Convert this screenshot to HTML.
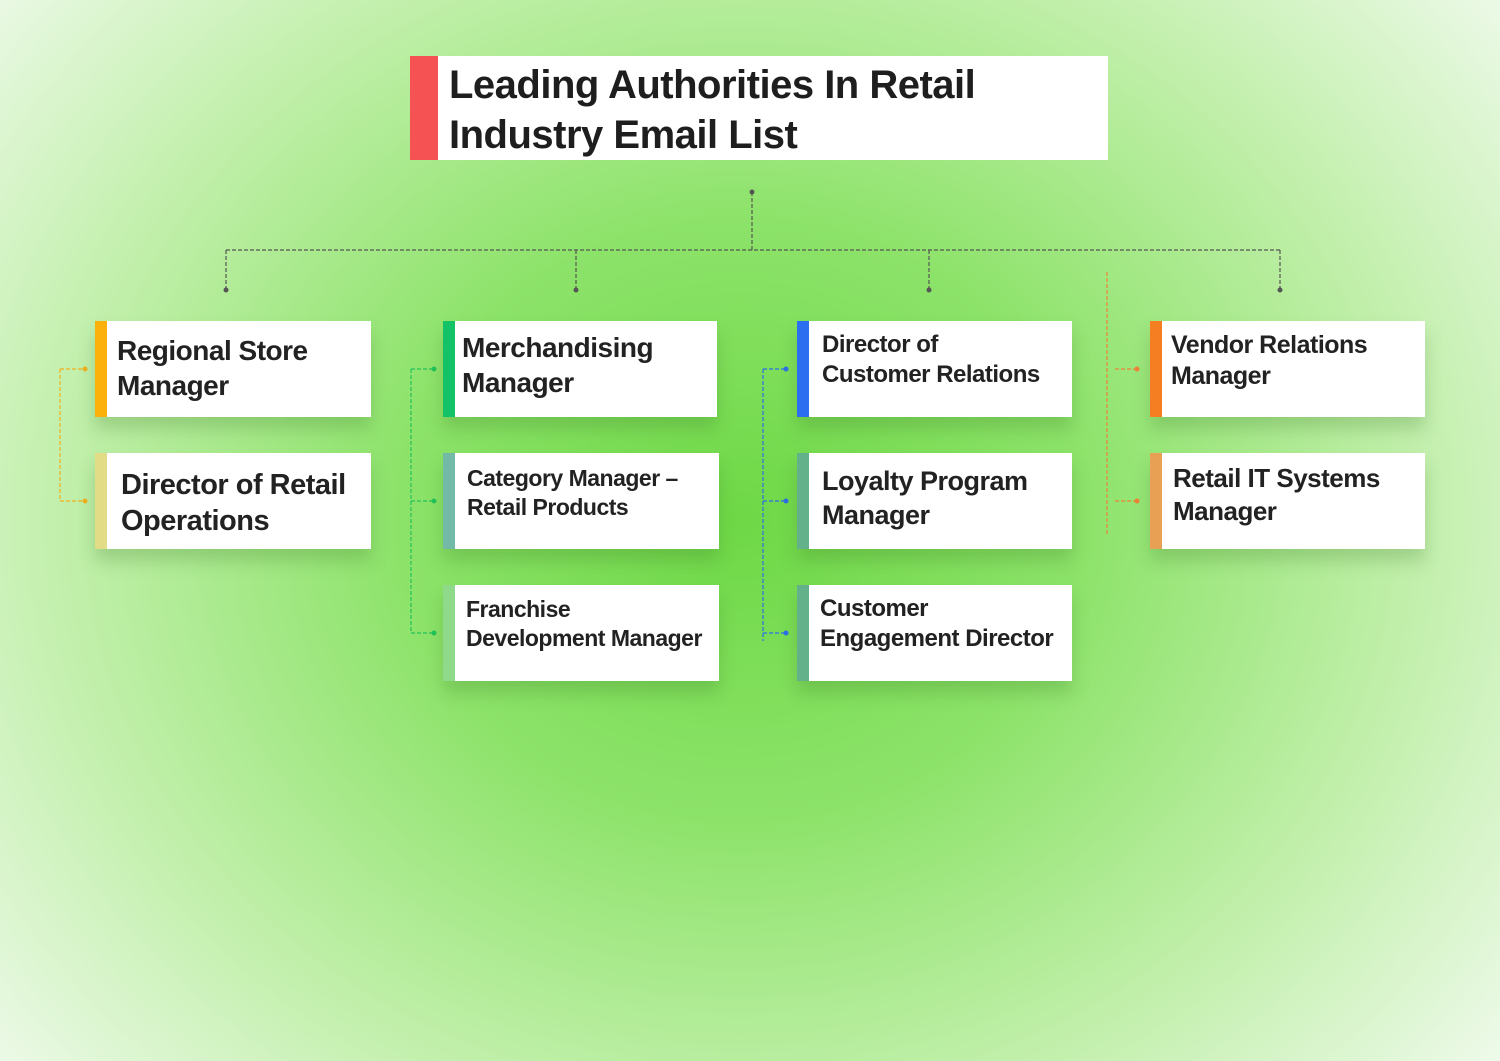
<!DOCTYPE html>
<html><head><style>
body{margin:0;width:1500px;height:1061px;overflow:hidden;position:relative;
background:radial-gradient(ellipse 980px 860px at 740px 520px,#6ed846 0%,#8de36a 35%,#c0efa9 68%,#eefaea 100%);
font-family:"Liberation Sans",sans-serif;}
.b{position:absolute;background:#fff;box-shadow:0 12px 16px rgba(60,120,40,0.25);}
.b .bar{position:absolute;left:0;top:0;bottom:0;width:12px;}
.b .t{position:absolute;font-weight:bold;color:#222;letter-spacing:-0.5px;line-height:1.25;}
svg{position:absolute;left:0;top:0}
</style></head><body>
<div class="b" style="left:410px;top:56px;width:698px;height:104px;box-shadow:none">
<div class="bar" style="width:28px;background:#f55353"></div>
<div class="t" style="left:39px;top:4px;font-size:40px;line-height:50px;color:#1e1e1e">Leading Authorities In Retail<br>Industry Email List</div></div>

<svg width="1500" height="1061">
<g fill="none" stroke-width="1.2" stroke-dasharray="4,2">
<g stroke="#555"><path d="M752 192V250M226 250H1280M226 250V290M576 250V290M929 250V290M1280 250V290"/></g>
<path stroke="#f2b01e" d="M60 369V501M60 369H85M60 501H85"/>
<path stroke="#22c25a" d="M411 369V633M411 369H434M411 501H434M411 633H434"/>
<path stroke="#2b6fe8" d="M763 369V641M763 369H786M763 501H786M763 633H786"/>
<path stroke="#f0813a" d="M1107 272V535M1115 369H1137M1115 501H1137"/>
</g>
<g fill="#555"><circle cx="752" cy="192" r="2.5"/><circle cx="226" cy="290" r="2.5"/><circle cx="576" cy="290" r="2.5"/><circle cx="929" cy="290" r="2.5"/><circle cx="1280" cy="290" r="2.5"/></g>
<g fill="#f2b01e"><circle cx="85" cy="369" r="2.5"/><circle cx="85" cy="501" r="2.5"/></g>
<g fill="#22c25a"><circle cx="434" cy="369" r="2.5"/><circle cx="434" cy="501" r="2.5"/><circle cx="434" cy="633" r="2.5"/></g>
<g fill="#2b6fe8"><circle cx="786" cy="369" r="2.5"/><circle cx="786" cy="501" r="2.5"/><circle cx="786" cy="633" r="2.5"/></g>
<g fill="#f0813a"><circle cx="1137" cy="369" r="2.5"/><circle cx="1137" cy="501" r="2.5"/></g>
</svg>

<div class="b" style="left:95px;top:321px;width:276px;height:96px"><div class="bar" style="background:#fbb10a"></div><div class="t" style="left:22px;top:12px;font-size:28px">Regional Store<br>Manager</div></div>
<div class="b" style="left:95px;top:453px;width:276px;height:96px"><div class="bar" style="background:#e3dc86"></div><div class="t" style="left:26px;top:14px;font-size:29px">Director of Retail<br>Operations</div></div>

<div class="b" style="left:443px;top:321px;width:274px;height:96px"><div class="bar" style="background:#13c266"></div><div class="t" style="left:19px;top:9px;font-size:28px">Merchandising<br>Manager</div></div>
<div class="b" style="left:443px;top:453px;width:276px;height:96px"><div class="bar" style="background:#73b9a8"></div><div class="t" style="left:24px;top:11px;font-size:23px">Category Manager –<br>Retail Products</div></div>
<div class="b" style="left:443px;top:585px;width:276px;height:96px"><div class="bar" style="background:#8fd98a"></div><div class="t" style="left:23px;top:10px;font-size:23px">Franchise<br>Development Manager</div></div>

<div class="b" style="left:797px;top:321px;width:275px;height:96px"><div class="bar" style="background:#2b6ff0"></div><div class="t" style="left:25px;top:9px;font-size:24px">Director of<br>Customer Relations</div></div>
<div class="b" style="left:797px;top:453px;width:275px;height:96px"><div class="bar" style="background:#62b18a"></div><div class="t" style="left:25px;top:12px;font-size:27px">Loyalty Program<br>Manager</div></div>
<div class="b" style="left:797px;top:585px;width:275px;height:96px"><div class="bar" style="background:#62b18a"></div><div class="t" style="left:23px;top:9px;font-size:24px">Customer<br>Engagement Director</div></div>

<div class="b" style="left:1150px;top:321px;width:275px;height:96px"><div class="bar" style="background:#f57d22"></div><div class="t" style="left:21px;top:9px;font-size:25px">Vendor Relations<br>Manager</div></div>
<div class="b" style="left:1150px;top:453px;width:275px;height:96px"><div class="bar" style="background:#e8a055"></div><div class="t" style="left:23px;top:9px;font-size:26px">Retail IT Systems<br>Manager</div></div>
</body></html>
